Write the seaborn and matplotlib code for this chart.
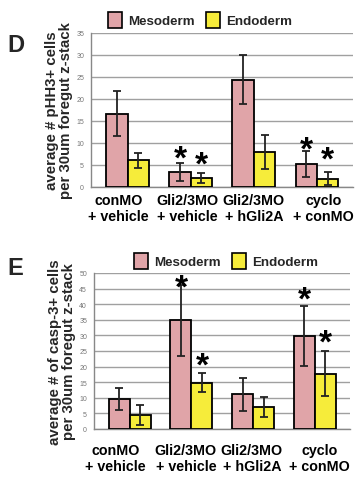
import matplotlib
matplotlib.use("Agg")
import matplotlib.pyplot as plt
import seaborn as sns
import pandas as pd
from matplotlib.patches import Patch

sns.set_style("white")
plt.rcParams['font.family'] = ['Liberation Sans', 'DejaVu Sans']

categories = ["conMO\n+ vehicle", "Gli2/3MO\n+ vehicle", "Gli2/3MO\n+ hGli2A", "cyclo\n+ conMO"]
tissues = ["Mesoderm", "Endoderm"]

# Panel D: pHH3+
d_meso = [16.7, 3.4, 24.4, 5.2]
d_meso_err = [5.1, 2.1, 5.5, 2.9]
d_endo = [6.1, 2.0, 8.0, 1.9]
d_endo_err = [1.7, 1.2, 3.9, 1.5]
# significance asterisks (value-axis height of the mark, None = no mark)
d_meso_star = [None, 7.9, None, 9.8]
d_endo_star = [None, 6.4, None, 7.5]

# Panel E: casp-3+
e_meso = [9.6, 34.8, 11.1, 29.8]
e_meso_err = [3.6, 11.5, 5.2, 9.7]
e_endo = [4.5, 14.8, 7.2, 17.7]
e_endo_err = [3.1, 3.1, 3.2, 7.2]
e_meso_star = [None, 47.3, None, 43.3]
e_endo_star = [None, 22.4, None, 29.6]

colors = {"Mesoderm": "#E0A4A8", "Endoderm": "#F6EC3A"}
grid_c = "#A0A0A0"
STAR_FS = 24

fig = plt.figure(figsize=(3.62, 4.89), dpi=100)


def panel(rect, meso, meso_err, endo, endo_err, meso_star, endo_star,
          ymax, ylabel, letter, letter_y, leg_y, leg_x, xlab_pad, label_pos):
    ax = fig.add_axes(rect)
    df = pd.DataFrame({
        "cat": categories * 2,
        "tissue": ["Mesoderm"] * 4 + ["Endoderm"] * 4,
        "val": meso + endo,
    })
    sns.barplot(data=df, x="cat", y="val", hue="tissue", order=categories,
                hue_order=tissues, palette=colors, width=0.68, gap=0,
                saturation=1, errorbar=None, edgecolor="black", linewidth=1.3,
                ax=ax, legend=False, zorder=3)
    errs = meso_err + endo_err
    vals = meso + endo
    stars = meso_star + endo_star
    bars = [p for p in ax.patches][:8]
    for p, v, e, s in zip(bars, vals, errs, stars):
        xc = p.get_x() + p.get_width() / 2
        ax.errorbar(xc, v, yerr=e, fmt="none", ecolor="#222222",
                    elinewidth=1.3, capsize=3, capthick=1.3, zorder=4)
        if s is not None:
            ax.annotate("*", (xc, s), xytext=(0, -0.45 * STAR_FS),
                        textcoords="offset points", ha="center", va="baseline",
                        fontsize=STAR_FS, fontweight="bold", color="black",
                        zorder=5, annotation_clip=False)
    ax.set_ylim(0, ymax)
    ax.set_xlim(-0.58, 3.57)
    ax.set_yticks(range(0, ymax + 1, 5))
    ax.set_xticks(label_pos)
    ax.set_xticklabels(categories)
    ax.yaxis.grid(True, color=grid_c, linewidth=1.0)
    ax.set_axisbelow(True)
    for sp in ["top", "right"]:
        ax.spines[sp].set_visible(False)
    ax.spines["left"].set_color("#888888")
    ax.spines["bottom"].set_color("#888888")
    ax.spines["left"].set_linewidth(1.0)
    ax.spines["bottom"].set_linewidth(1.0)
    ax.tick_params(axis="y", labelsize=5, colors="#777777", length=3,
                   width=0.8, pad=2)
    ax.tick_params(axis="x", length=0, pad=xlab_pad, labelsize=10.3)
    for t in ax.get_xticklabels():
        t.set_fontweight("bold")
        t.set_color("black")
        t.set_linespacing(1.2)
    ax.set_xlabel("")
    ax.set_ylabel(ylabel, fontsize=10.8, fontweight="bold", labelpad=2,
                  linespacing=1.0)
    fig.text(0.02, letter_y, letter, fontsize=17, fontweight="bold",
             va="center", ha="left")
    handles = [Patch(facecolor=colors[t], edgecolor="black", linewidth=1.2)
               for t in tissues]
    fig.legend(handles, tissues, loc="center", bbox_to_anchor=(leg_x, leg_y),
               ncol=2, frameon=False, prop={"weight": "bold", "size": 9.6},
               handlelength=1.1, handleheight=1.4, handletextpad=0.45,
               columnspacing=0.8)
    return ax


panel([91 / 362, 1 - 188 / 489, 262 / 362, 154 / 489],
      d_meso, d_meso_err, d_endo, d_endo_err, d_meso_star, d_endo_star,
      35, "average # pHH3+ cells\nper 30um foregut z-stack", "D",
      1 - 46 / 489, 1 - 21 / 489, 200 / 362, 4, [-0.14, 0.95, 2.0, 3.1])

panel([94 / 362, 1 - 430 / 489, 256 / 362, 156 / 489],
      e_meso, e_meso_err, e_endo, e_endo_err, e_meso_star, e_endo_star,
      50, "average # of casp-3+ cells\nper 30um foregut z-stack", "E",
      1 - 269 / 489, 1 - 262 / 489, 226 / 362, 10, [-0.23, 0.91, 1.98, 3.08])

fig.savefig("out.png", dpi=100)
